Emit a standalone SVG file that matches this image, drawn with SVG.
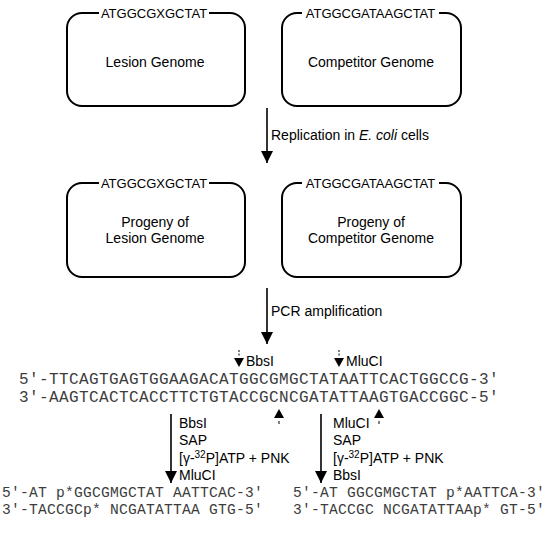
<svg xmlns="http://www.w3.org/2000/svg" width="551" height="536" viewBox="0 0 551 536">
<style>
.box{fill:none;stroke:#000;stroke-width:2}
.gap{fill:#fff;stroke:none}
.hdr{font-family:"Liberation Sans",Arial,sans-serif;font-size:13px;text-anchor:middle;fill:#000}
.body{font-family:"Liberation Sans",Arial,sans-serif;font-size:14px;text-anchor:middle;fill:#000}
.lbl{font-family:"Liberation Sans",Arial,sans-serif;font-size:14px;fill:#000}
.seq{font-family:"Liberation Mono","Courier New",monospace;font-size:16px;letter-spacing:0.4px;fill:#3c3c3c}
.seq2{font-family:"Liberation Mono","Courier New",monospace;font-size:14.6px;letter-spacing:0.24px;fill:#3c3c3c}
.arr{stroke:#000;stroke-width:1.6;fill:none}
.tick{stroke:#000;stroke-width:1;stroke-dasharray:2,1.5}
.tick1{stroke:#000;stroke-width:1}
.head{fill:#000}
</style>
<defs>
<marker id="ah" markerUnits="userSpaceOnUse" markerWidth="12" markerHeight="12" viewBox="0 0 12 12" refX="12" refY="6" orient="auto">
<path d="M0,0 L12,6 L0,12 z" fill="#000"/>
</marker>
</defs>

<g id="lesion-genome">
<rect class="box" x="67" y="13" width="178" height="93" rx="15"/>
<rect class="gap" x="99" y="7" width="110" height="12"/>
<text class="hdr" x="154" y="17.7">ATGGCGXGCTAT</text>
<text class="body" x="155" y="67">Lesion Genome</text>
</g>

<g id="competitor-genome">
<rect class="box" x="282" y="13" width="179" height="93" rx="15"/>
<rect class="gap" x="302" y="7" width="137" height="12"/>
<text class="hdr" x="370.5" y="17.7">ATGGCGATAAGCTAT</text>
<text class="body" x="371" y="67">Competitor Genome</text>
</g>

<g id="progeny-lesion">
<rect class="box" x="67" y="183" width="178" height="94" rx="15"/>
<rect class="gap" x="99" y="177" width="110" height="12"/>
<text class="hdr" x="154" y="187.7">ATGGCGXGCTAT</text>
<text class="body" x="155" y="227">Progeny of</text>
<text class="body" x="155" y="243">Lesion Genome</text>
</g>

<g id="progeny-competitor">
<rect class="box" x="282" y="183" width="179" height="94" rx="15"/>
<rect class="gap" x="302" y="177" width="137" height="12"/>
<text class="hdr" x="370.5" y="187.7">ATGGCGATAAGCTAT</text>
<text class="body" x="371" y="227">Progeny of</text>
<text class="body" x="371" y="243">Competitor Genome</text>
</g>

<g id="connectors">
<line class="arr" x1="267" y1="108" x2="267" y2="163" marker-end="url(#ah)"/>
<line class="arr" x1="267" y1="288" x2="267" y2="344" marker-end="url(#ah)"/>
<line class="arr" x1="171" y1="414" x2="171" y2="483" marker-end="url(#ah)"/>
<line class="arr" x1="321" y1="414" x2="321" y2="483" marker-end="url(#ah)"/>
</g>

<g id="step-labels">
<text class="lbl" x="271" y="140">Replication in <tspan font-style="italic">E. coli</tspan> cells</text>
<text class="lbl" x="271" y="316">PCR amplification</text>
<text class="lbl" x="179" y="428">BbsI</text>
<text class="lbl" x="179" y="445">SAP</text>
<text class="lbl" x="179" y="463">[γ-<tspan font-size="10" dy="-5">32</tspan><tspan dy="5">P]ATP + PNK</tspan></text>
<text class="lbl" x="179" y="480">MluCI</text>
<text class="lbl" x="333" y="428">MluCI</text>
<text class="lbl" x="333" y="445">SAP</text>
<text class="lbl" x="333" y="463">[γ-<tspan font-size="10" dy="-5">32</tspan><tspan dy="5">P]ATP + PNK</tspan></text>
<text class="lbl" x="333" y="480">BbsI</text>
</g>

<g id="cut-sites">
<line class="tick" x1="239" y1="350" x2="239" y2="357"/>
<polygon class="head" points="234,358 244,358 239,367"/>
<text class="lbl" x="246" y="366">BbsI</text>
<line class="tick" x1="339" y1="350" x2="339" y2="357"/>
<polygon class="head" points="334,358 344,358 339,367"/>
<text class="lbl" x="346" y="366">MluCI</text>
<polygon class="head" points="274,418 284,418 279,409"/>
<line class="tick1" x1="279" y1="421" x2="279" y2="424"/>
<polygon class="head" points="374,418 384,418 379,409"/>
<line class="tick1" x1="379" y1="421" x2="379" y2="424"/>
</g>

<g id="pcr-product">
<text class="seq" x="19" y="384" xml:space="preserve">5′-TTCAGTGAGTGGAAGACATGGCGMGCTATAATTCACTGGCCG-3′</text>
<text class="seq" x="19" y="402" xml:space="preserve">3′-AAGTCACTCACCTTCTGTACCGCNCGATATTAAGTGACCGGC-5′</text>
</g>

<g id="product-left">
<text class="seq2" x="2" y="497" xml:space="preserve">5′-AT p*GGCGMGCTAT AATTCAC-3′</text>
<text class="seq2" x="2" y="514" xml:space="preserve">3′-TACCGCp* NCGATATTAA GTG-5′</text>
</g>

<g id="product-right">
<text class="seq2" x="293" y="497" xml:space="preserve">5′-AT GGCGMGCTAT p*AATTCA-3′</text>
<text class="seq2" x="293" y="514" xml:space="preserve">3′-TACCGC NCGATATTAAp* GT-5′</text>
</g>
</svg>
